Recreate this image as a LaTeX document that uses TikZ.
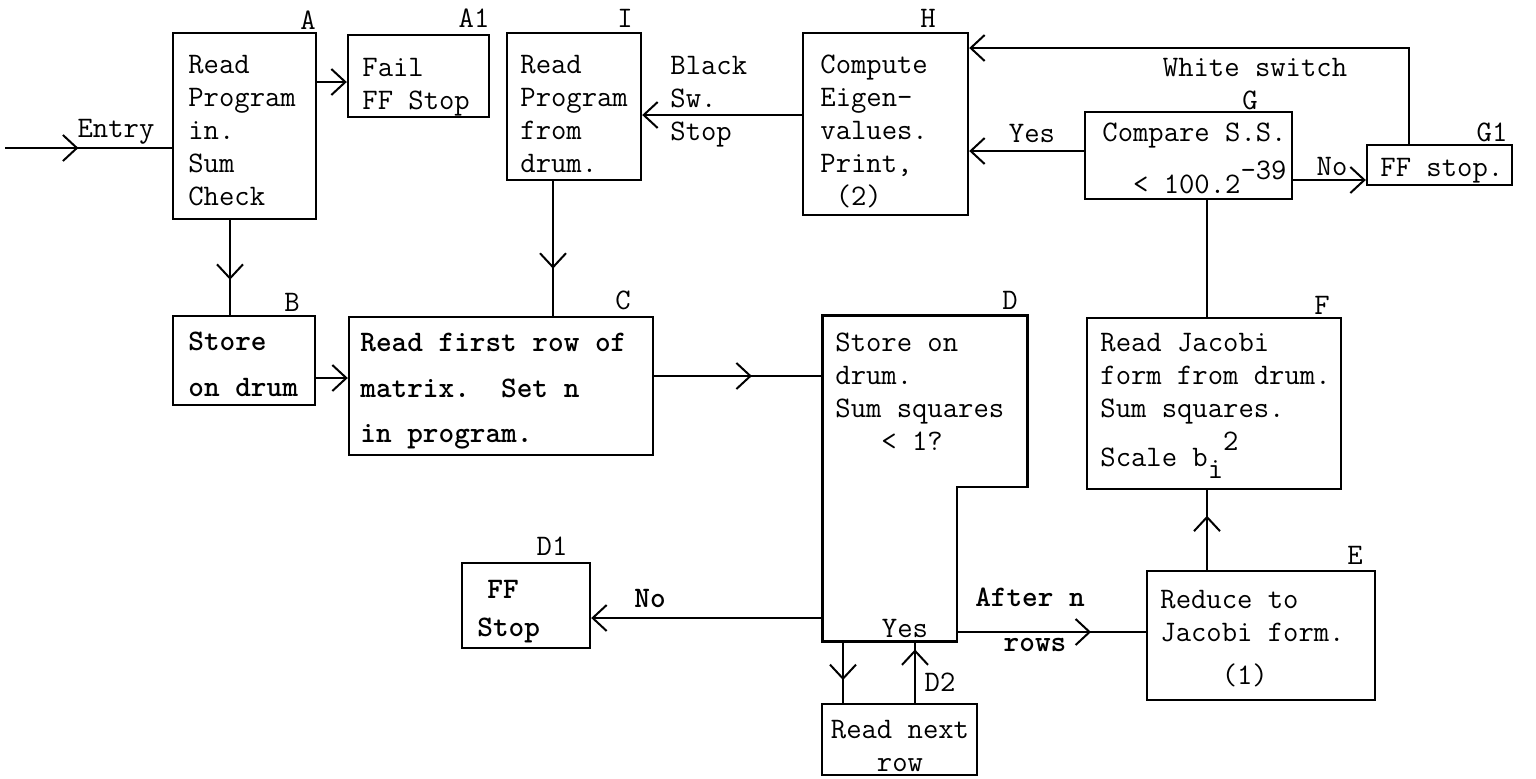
\documentclass[tikz,border=0pt]{standalone}
\usetikzlibrary{arrows.meta,decorations.markings,fit,calc}
\begin{document}
\begin{tikzpicture}[x=0.5pt,y=-0.5pt,
  box/.style={draw,line width=1.2pt,inner sep=0pt},
  area/.style={inner sep=0pt},
  txt/.style={anchor=north west,inner sep=0pt,align=left,font=\ttfamily\fontsize{14.9}{16.5}\selectfont},
  lbl/.style={anchor=center,inner sep=0pt,font=\ttfamily\fontsize{14.9}{16.5}\selectfont},
  bl/.style={anchor=center,inner sep=0pt,font=\ttfamily\bfseries\fontsize{14.9}{16.5}\selectfont},
  conn/.style={line width=1pt},
  tip/.style={-{Straight Barb[length=7pt,width=13pt]}},
  midtip/.style={postaction={decorate},decoration={markings,mark=at position #1 with {\arrow{Straight Barb[length=7pt,width=13pt]}}}},
]
\useasboundingbox (0,0) rectangle (1536,778);

% boxes
\node[box,fit={(173,33) (316,219)}] (A) {};
\node[box,fit={(348,35) (489,117)}] (A1) {};
\node[box,fit={(507,33) (641,180)}] (I) {};
\node[box,fit={(803,33) (968,215)}] (H) {};
\node[box,fit={(1085,112) (1292,199)}] (G) {};
\node[box,fit={(1367,145) (1512,185)}] (G1) {};
\node[box,fit={(173,316) (315,405)}] (B) {};
\node[box,fit={(349,317) (653,455)}] (C) {};
\node[area,fit={(823,316) (1027,641)}] (D) {};
\coordinate (Dstep) at (957,487);
\draw[box] (D.north west) -- (D.north east) -- (D.east |- Dstep) -- (Dstep) -- (Dstep |- D.south) -- (D.south west) -- cycle;
\node[box,fit={(1087,318) (1341,489)}] (F) {};
\node[box,fit={(1147,571) (1375,700)}] (E) {};
\node[box,fit={(462,563) (590,648)}] (D1) {};
\node[box,fit={(822,704) (977,775)}] (D2) {};

% box texts
\node[txt] (At) at (188,55) {Read\\Program\\in.\\Sum\\Check};
\node[txt] (A1t) at (362,58) {Fail\\FF Stop};
\node[txt] (It) at (520,55) {Read\\Program\\from\\drum.};
\node[txt] (Ht) at (820,55) {Compute\\Eigen-\\values.\\Print,\\\phantom{0}(2)};
\node[txt] (Gt) at (1102,123) {Compare S.S.\\[5pt]\phantom{00}< 100.2\raisebox{7pt}{-39}};
\node[txt] (G1t) at (1380,158) {FF stop.};
\node[txt,font=\ttfamily\bfseries\fontsize{14.9}{16.5}\selectfont] (Bt) at (188,332) {Store\\[6.5pt]on drum};
\node[txt,font=\ttfamily\bfseries\fontsize{14.9}{16.5}\selectfont] (Ct) at (360,333) {Read first row of\\[6.5pt]matrix.\phantom{00}Set n\\[6pt]in program.};
\node[txt] (Dt) at (835,333) {Store on\\drum.\\Sum squares\\\phantom{000}< 1?};
\node[txt] (Ft) at (1100,333) {Read Jacobi\\form from drum.\\Sum squares.\\[3pt]Scale b\raisebox{-6pt}{i}\raisebox{8pt}{2}};
\node[txt] (Et) at (1160,590) {Reduce to\\Jacobi form.\\[5pt]\phantom{0000}(1)};
\node[txt,font=\ttfamily\bfseries\fontsize{14.9}{16.5}\selectfont] (D1t) at (477,580) {\hspace{5pt}FF\\[2.5pt]Stop};
\node[txt,anchor=north,align=center] (D2t) at (900,720) {Read next\\row};

% box labels
\node[lbl] (Al) at (308,20) {A};
\node[lbl] (A1l) at (474,18) {A1};
\node[lbl] (Il) at (625,18) {I};
\node[lbl] (Hl) at (928,18) {H};
\node[lbl] (Gl) at (1250,100) {G};
\node[lbl] (G1l) at (1492,132) {G1};
\node[lbl] (Bl) at (292,302) {B};
\node[lbl] (Cl) at (623,300) {C};
\node[lbl] (Dl) at (1010,300) {D};
\node[lbl] (Fl) at (1322,305) {F};
\node[lbl] (El) at (1355,555) {E};
\node[lbl] (D1l) at (552,546) {D1};
\node[lbl] (D2l) at (940,682) {D2};

% connector labels
\node[lbl] (entryl) at (116,132) {Entry};
\node[txt] (blackl) at (670,56) {Black\\\phantom{}Sw.\\Stop};
\node[lbl] (yesg) at (1032,133) {Yes};
\node[lbl] (nog) at (1332,166) {No};
\node[lbl] (whitel) at (1255,68) {White switch};
\node[bl] (nod) at (650,598) {No};
\node[bl] (aftl) at (1030,597) {After n};
\node[bl] (rowsl) at (1035,645) {rows};
\node[lbl] (yesd) at (905,628) {Yes};

% connectors
\coordinate (entry) at (5,148);
\draw[conn,midtip=0.44] (entry) -- (entry -| A.west);
\draw[conn,tip] (A.east |- 0,82) -- (A1.west |- 0,82);
\draw[conn,midtip=0.63] (A.south -| 230,0) -- (B.north -| 230,0);
\draw[conn,tip] (B.east |- 0,378) -- (C.west |- 0,378);
\draw[conn,midtip=0.58] (C.east |- 0,376) -- (D.west |- 0,376);
\draw[conn,midtip=0.65] (I.south -| 553,0) -- (C.north -| 553,0);
\draw[conn,tip] (H.west |- 0,115) -- (I.east |- 0,115);
\draw[conn,tip] (G.west |- 0,151) -- (H.east |- 0,151);
\draw[conn,tip] (G.east |- 0,180) -- (G1.west |- 0,180);
\draw[conn,tip] (G1.north -| 1409,0) |- (H.east |- 0,48);
\draw[conn] (G.south -| 1207,0) -- (F.north -| 1207,0);
\draw[conn,midtip=0.68] (E.north -| 1207,0) -- (F.south -| 1207,0);
\draw[conn,midtip=0.71] (Dstep |- 0,632) -- (E.west |- 0,632);
\draw[conn,tip] (D.west |- 0,618) -- (D1.east |- 0,618);
\draw[conn,midtip=0.63] (D.south -| 843,0) -- (D2.north -| 843,0);
\draw[conn,midtip=0.87] (D2.north -| 915,0) -- (D.south -| 915,0);
\end{tikzpicture}
\end{document}
